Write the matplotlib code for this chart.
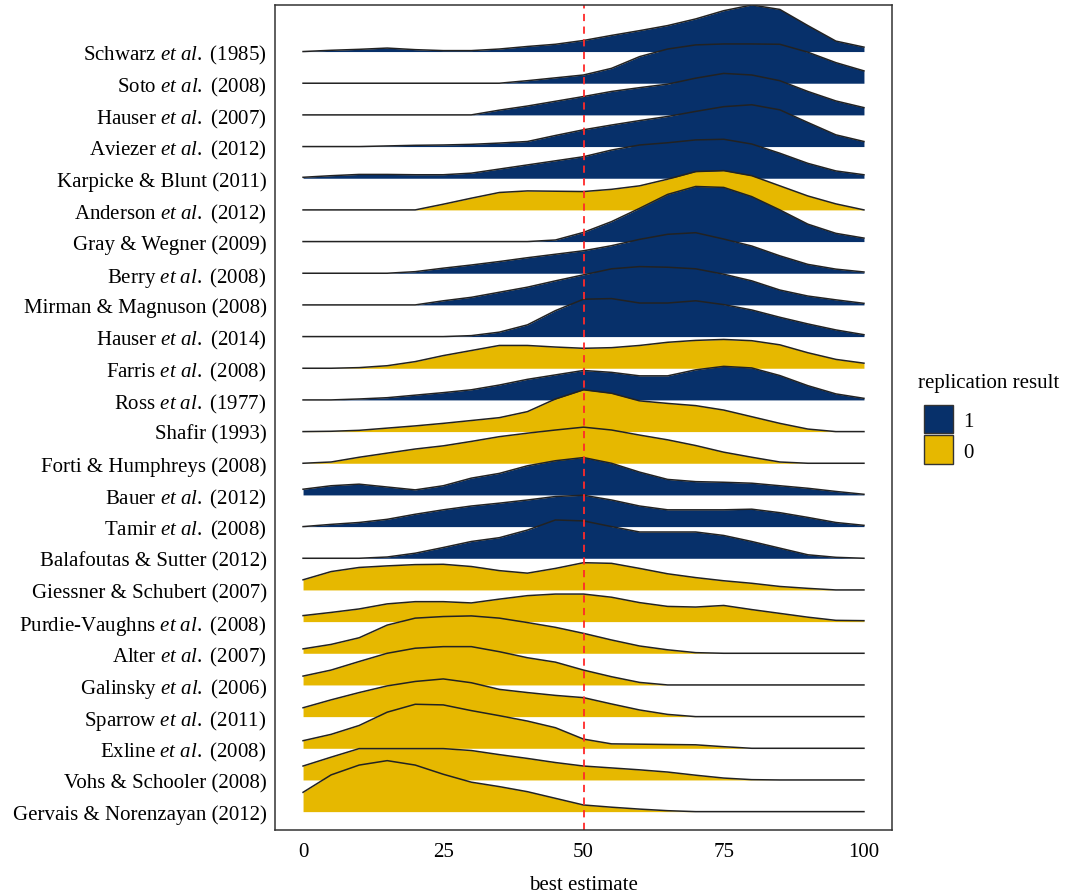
import matplotlib
matplotlib.use("Agg")
import matplotlib.pyplot as plt
from matplotlib.patches import Patch

plt.rcParams["font.family"] = ["Liberation Serif", "DejaVu Serif"]
plt.rcParams["mathtext.fontset"] = "custom"
plt.rcParams["mathtext.rm"] = "Liberation Serif"
plt.rcParams["mathtext.it"] = "Liberation Serif:italic"

# study labels, top to bottom
studies = [
    r"Schwarz $\mathit{et\ al.}$ (1985)",
    r"Soto $\mathit{et\ al.}$ (2008)",
    r"Hauser $\mathit{et\ al.}$ (2007)",
    r"Aviezer $\mathit{et\ al.}$ (2012)",
    "Karpicke & Blunt (2011)",
    r"Anderson $\mathit{et\ al.}$ (2012)",
    "Gray & Wegner (2009)",
    r"Berry $\mathit{et\ al.}$ (2008)",
    "Mirman & Magnuson (2008)",
    r"Hauser $\mathit{et\ al.}$ (2014)",
    r"Farris $\mathit{et\ al.}$ (2008)",
    r"Ross $\mathit{et\ al.}$ (1977)",
    "Shafir (1993)",
    "Forti & Humphreys (2008)",
    r"Bauer $\mathit{et\ al.}$ (2012)",
    r"Tamir $\mathit{et\ al.}$ (2008)",
    "Balafoutas & Sutter (2012)",
    "Giessner & Schubert (2007)",
    r"Purdie-Vaughns $\mathit{et\ al.}$ (2008)",
    r"Alter $\mathit{et\ al.}$ (2007)",
    r"Galinsky $\mathit{et\ al.}$ (2006)",
    r"Sparrow $\mathit{et\ al.}$ (2011)",
    r"Exline $\mathit{et\ al.}$ (2008)",
    "Vohs & Schooler (2008)",
    "Gervais & Norenzayan (2012)",
]
replicated = [1, 1, 1, 1, 1, 0, 1, 1, 1, 1, 0, 1, 0, 0, 1, 1, 1, 0, 0, 0, 0, 0, 0, 0, 0]

# best estimate grid and density heights (in row units)
x_grid = [0, 5, 10, 15, 20, 25, 30, 35, 40, 45, 50, 55, 60, 65, 70, 75, 80, 85, 90, 95, 100]

d_schwarz = [0, .04, .07, .11, .06, .03, .03, .08, .16, .23, .35, .51, .66, .82, 1.03, 1.29, 1.47, 1.33, .82, .33, .14]
d_soto = [0, 0, 0, 0, 0, 0, 0, 0, .08, .17, .26, .47, .84, 1.08, 1.21, 1.24, 1.24, 1.23, .98, .65, .39]
d_hauser07 = [0, 0, 0, 0, 0, 0, 0, .15, .28, .43, .58, .74, .86, .97, 1.16, 1.31, 1.26, 1.08, .74, .44, .23]
d_aviezer = [0, 0, 0, .02, .04, .05, .07, .11, .16, .35, .53, .68, .82, .95, 1.11, 1.26, 1.32, 1.16, .76, .37, .16]
d_karpicke = [.03, .08, .12, .12, .11, .11, .16, .29, .42, .55, .68, .89, 1.05, 1.12, 1.21, 1.23, 1.08, .79, .47, .23, .11]
d_anderson = [0, 0, 0, 0, 0, .18, .37, .55, .60, .59, .58, .65, .76, .97, 1.21, 1.24, 1.08, .76, .44, .19, 0]
d_gray = [0, 0, 0, 0, 0, 0, 0, 0, 0, .05, .29, .63, 1.05, 1.49, 1.74, 1.71, 1.42, 1.00, .55, .26, .11]
d_berry = [0, 0, 0, 0, .05, .16, .26, .37, .49, .60, .71, .87, 1.07, 1.23, 1.28, 1.08, .86, .55, .28, .13, .04]
d_mirman = [0, 0, 0, 0, 0, .13, .24, .40, .56, .76, .95, 1.14, 1.21, 1.19, 1.14, .97, .76, .47, .28, .16, .05]
d_hauser14 = [0, 0, 0, 0, 0, 0, .03, .14, .37, .82, 1.18, 1.20, 1.06, 1.06, 1.13, 1.01, .84, .61, .40, .21, .06]
d_farris = [0, 0, .02, .08, .21, .40, .56, .72, .72, .67, .63, .65, .72, .82, .88, .91, .87, .74, .49, .28, .16]
d_ross = [0, 0, .03, .07, .15, .23, .32, .47, .65, .79, .93, .87, .76, .76, .95, 1.06, 1.01, .77, .45, .19, .05]
d_shafir = [0, .01, .04, .11, .18, .26, .35, .44, .63, 1.03, 1.32, 1.21, .97, .89, .82, .68, .47, .26, .08, 0, 0]
d_forti = [0, .04, .19, .32, .45, .55, .69, .84, .95, 1.05, 1.14, 1.05, .89, .74, .56, .35, .19, .04, 0, 0, 0]
d_bauer = [.18, .29, .34, .25, .16, .29, .53, .68, .92, 1.08, 1.18, 1.00, .72, .49, .42, .40, .37, .29, .21, .11, .02]
d_tamir = [0, .07, .13, .23, .39, .53, .65, .74, .84, .95, .99, .84, .65, .53, .53, .53, .55, .44, .29, .13, .04]
d_balafoutas = [0, 0, 0, .04, .16, .34, .53, .65, .89, 1.21, 1.18, 1.00, .83, .83, .83, .72, .53, .32, .11, .03, 0]
d_giessner = [.32, .58, .71, .76, .80, .81, .74, .61, .53, .68, .86, .84, .68, .51, .39, .29, .21, .11, .05, 0, 0]
d_purdie = [.19, .29, .40, .56, .63, .63, .59, .71, .82, .87, .87, .77, .60, .48, .46, .51, .38, .26, .14, .04, .03]
d_alter = [.14, .28, .49, .89, 1.11, 1.16, 1.18, 1.11, .97, .82, .63, .42, .23, .11, .02, 0, 0, 0, 0, 0, 0]
d_galinsky = [.28, .47, .74, 1.00, 1.16, 1.21, 1.21, 1.05, .86, .72, .47, .26, .08, 0, 0, 0, 0, 0, 0, 0, 0]
d_sparrow = [.28, .53, .76, .97, 1.11, 1.19, 1.07, .86, .76, .67, .60, .40, .21, .07, 0, 0, 0, 0, 0, 0, 0]
d_exline = [.24, .44, .72, 1.14, 1.39, 1.37, 1.19, 1.03, .86, .65, .29, .14, .13, .12, .11, .05, 0, 0, 0, 0, 0]
d_vohs = [.44, .72, .99, .99, .99, .99, .93, .80, .68, .55, .44, .38, .32, .25, .15, .06, .01, 0, 0, 0, 0]
d_gervais = [.61, 1.16, 1.47, 1.61, 1.47, 1.18, .93, .79, .63, .42, .21, .14, .08, .03, 0, 0, 0, 0, 0, 0, 0]

densities = [d_schwarz, d_soto, d_hauser07, d_aviezer, d_karpicke, d_anderson, d_gray,
             d_berry, d_mirman, d_hauser14, d_farris, d_ross, d_shafir, d_forti, d_bauer,
             d_tamir, d_balafoutas, d_giessner, d_purdie, d_alter, d_galinsky, d_sparrow,
             d_exline, d_vohs, d_gervais]

colors = {1: "#07306A", 0: "#E6B800"}

fig = plt.figure(figsize=(10.74, 8.95), dpi=100)
ax = fig.add_axes([275 / 1074, 64 / 895, 617 / 1074, 825 / 895])

n = len(studies)
for i, (dens, rep) in enumerate(zip(densities, replicated)):
    y0 = n - i
    top = [y0 + h for h in dens]
    # lower rows are drawn over the upper ones
    ax.fill_between(x_grid, y0, top, color=colors[rep], lw=0, zorder=2 * i + 1)
    ax.plot(x_grid, top, color="#222222", lw=1.1, zorder=2 * i + 2)

ax.axvline(50, color="#FF2A2A", ls=(0, (4, 3)), lw=1.3, zorder=100)

ax.set_xlim(-5, 105)
ax.set_ylim(0.42, 26.47)
ax.set_xticks([0, 25, 50, 75, 100])
ax.set_yticks(range(n, 0, -1))
ax.set_yticklabels(studies)
ax.tick_params(axis="both", length=0, labelsize=15, colors="black")
ax.tick_params(axis="y", pad=6)
ax.tick_params(axis="x", pad=9)
ax.set_xlabel("best estimate", fontsize=15, labelpad=10)
for s in ax.spines.values():
    s.set_color("#333333")
    s.set_linewidth(1.1)
    s.set_zorder(200)

# legend: title as its own text, boxes below it
fig.text(918 / 1074, 1 - 384 / 895, "replication result", fontsize=15, ha="left", va="center")
handles = [Patch(facecolor=colors[1], edgecolor="#333333", lw=1),
           Patch(facecolor=colors[0], edgecolor="#333333", lw=1)]
fig.legend(handles, ["1", "0"], loc="upper left",
           bbox_to_anchor=(909 / 1074, 1 - 391 / 895), frameon=False, fontsize=15,
           handlelength=1.4, handleheight=1.75, labelspacing=0.1,
           handletextpad=0.5, borderpad=0.2)

fig.savefig("out.png", dpi=100)
